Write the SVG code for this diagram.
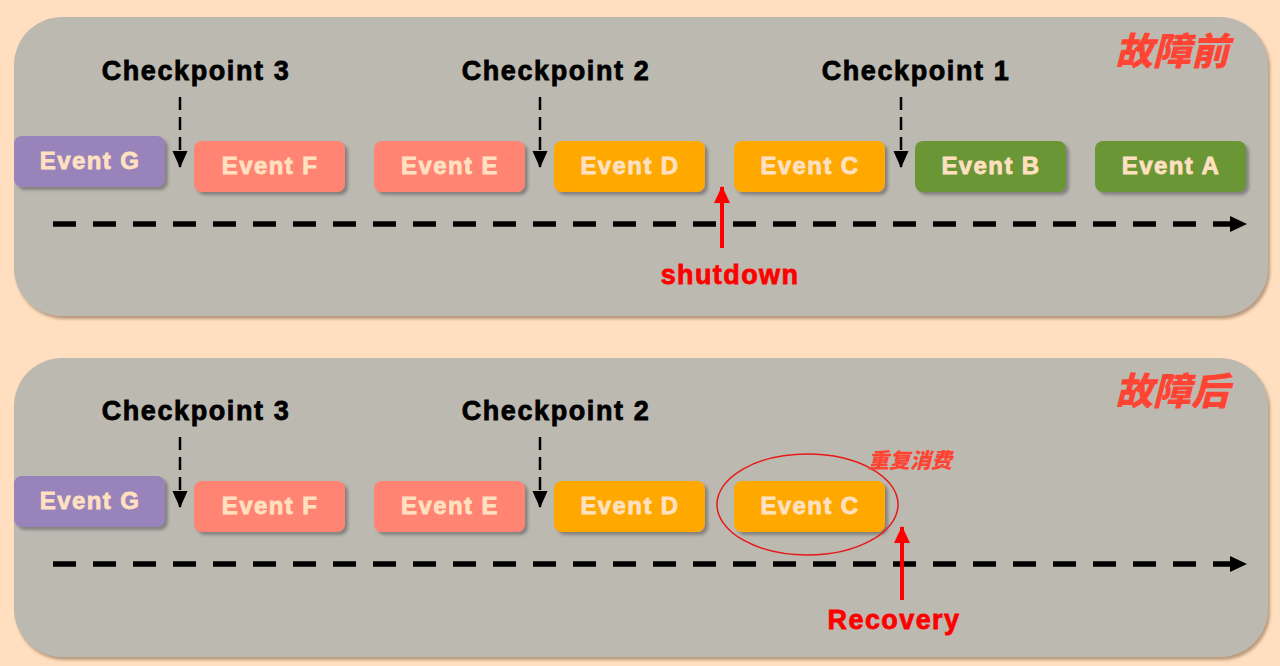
<svg xmlns="http://www.w3.org/2000/svg" width="1280" height="666" viewBox="0 0 1280 666">
<defs>
<filter id="pshadow" x="-5%" y="-5%" width="110%" height="115%">
<feDropShadow dx="2" dy="3" stdDeviation="1.5" flood-color="#8a6a50" flood-opacity="0.6"/>
</filter>
<filter id="bshadow" x="-10%" y="-10%" width="125%" height="135%">
<feDropShadow dx="3" dy="3" stdDeviation="1.5" flood-color="#555" flood-opacity="0.55"/>
</filter>
<marker id="blk" markerWidth="17" markerHeight="16" refX="16" refY="8" orient="auto" markerUnits="userSpaceOnUse">
<path d="M0,0 L17,8 L0,16 Z" fill="#000"/>
</marker>
<marker id="cp" markerWidth="17" markerHeight="16" refX="16" refY="7.5" orient="auto" markerUnits="userSpaceOnUse">
<path d="M0,0 L17,7.5 L0,15 Z" fill="#000"/>
</marker>
<marker id="red" markerWidth="17" markerHeight="16" refX="16" refY="8" orient="auto" markerUnits="userSpaceOnUse">
<path d="M0,0 L17,8 L0,16 Z" fill="#FF0000"/>
</marker>
</defs>
<style>
.panel{fill:#BCB9B1;filter:url(#pshadow)}
.box{filter:url(#bshadow)}
.g{fill:#9883BB}.f{fill:#FF8473}.d{fill:#FFA800}.b{fill:#6A9636}
.et{font-family:"Liberation Sans",Arial,sans-serif;font-weight:bold;font-size:24px;letter-spacing:1.4px;fill:#FFE0C0;stroke:#FFE0C0;stroke-width:0.8px;text-anchor:middle}
.cpt{font-family:"Liberation Sans",Arial,sans-serif;font-weight:bold;font-size:27px;letter-spacing:1.6px;fill:#000;stroke:#000;stroke-width:0.8px;text-anchor:middle}
.rt{font-family:"Liberation Sans",Arial,sans-serif;font-weight:bold;font-size:27px;letter-spacing:1.4px;fill:#FF0000;stroke:#FF0000;stroke-width:0.8px;text-anchor:middle}
.title{font-family:"Noto Sans CJK SC",sans-serif;font-weight:900;font-style:italic;font-size:38px;fill:#FF4433}
.note{font-family:"Noto Sans CJK SC",sans-serif;font-weight:900;font-style:italic;font-size:21px;fill:#FF4433}
.tl{stroke:#000;stroke-width:5.5;stroke-dasharray:23 17;fill:none}
.cpa{stroke:#000;stroke-width:2.5;stroke-dasharray:13 7;fill:none}
.ra{stroke:#FF0000;stroke-width:4;fill:none}
</style>
<rect width="1280" height="666" fill="#FFDFBF"/>
<g id="panel-before">
<rect class="panel" x="14" y="17" width="1254" height="299" rx="48"/>
<text class="title" x="1115" y="65">故障前</text>
</g>
<g id="panel-after">
<rect class="panel" x="14" y="358" width="1254" height="299" rx="48"/>
<text class="title" x="1115" y="405">故障后</text>
</g>
<g id="checkpoints-before">
<text class="cpt" x="196" y="80">Checkpoint 3</text>
<text class="cpt" x="556" y="80">Checkpoint 2</text>
<text class="cpt" x="916" y="80">Checkpoint 1</text>
</g>
<g id="checkpoints-after">
<text class="cpt" x="196" y="420">Checkpoint 3</text>
<text class="cpt" x="556" y="420">Checkpoint 2</text>
</g>
<g id="events-before">
<g id="b-event-g"><rect class="box g" x="14" y="136" width="151" height="51" rx="8"/><text class="et" x="90" y="169">Event G</text></g>
<g id="b-event-f"><rect class="box f" x="194" y="141" width="151" height="51" rx="8"/><text class="et" x="270" y="174">Event F</text></g>
<g id="b-event-e"><rect class="box f" x="374" y="141" width="151" height="51" rx="8"/><text class="et" x="450" y="174">Event E</text></g>
<g id="b-event-d"><rect class="box d" x="554" y="141" width="151" height="51" rx="8"/><text class="et" x="630" y="174">Event D</text></g>
<g id="b-event-c"><rect class="box d" x="734" y="141" width="151" height="51" rx="8"/><text class="et" x="810" y="174">Event C</text></g>
<g id="b-event-b"><rect class="box b" x="915" y="141" width="151" height="51" rx="8"/><text class="et" x="991" y="174">Event B</text></g>
<g id="b-event-a"><rect class="box b" x="1095" y="141" width="151" height="51" rx="8"/><text class="et" x="1171" y="174">Event A</text></g>
</g>
<g id="events-after">
<g id="a-event-g"><rect class="box g" x="14" y="476" width="151" height="51" rx="8"/><text class="et" x="90" y="509">Event G</text></g>
<g id="a-event-f"><rect class="box f" x="194" y="481" width="151" height="51" rx="8"/><text class="et" x="270" y="514">Event F</text></g>
<g id="a-event-e"><rect class="box f" x="374" y="481" width="151" height="51" rx="8"/><text class="et" x="450" y="514">Event E</text></g>
<g id="a-event-d"><rect class="box d" x="554" y="481" width="151" height="51" rx="8"/><text class="et" x="630" y="514">Event D</text></g>
<g id="a-event-c"><rect class="box d" x="734" y="481" width="151" height="51" rx="8"/><text class="et" x="810" y="514">Event C</text></g>
</g>
<g id="connectors">
<line class="tl" x1="53" y1="224" x2="1246" y2="224" marker-end="url(#blk)"/>
<line class="tl" x1="53" y1="564" x2="1246" y2="564" marker-end="url(#blk)"/>
<line class="cpa" x1="180" y1="97" x2="180" y2="167" marker-end="url(#cp)"/>
<line class="cpa" x1="540" y1="97" x2="540" y2="167" marker-end="url(#cp)"/>
<line class="cpa" x1="901" y1="97" x2="901" y2="167" marker-end="url(#cp)"/>
<line class="cpa" x1="180" y1="437" x2="180" y2="507" marker-end="url(#cp)"/>
<line class="cpa" x1="540" y1="437" x2="540" y2="507" marker-end="url(#cp)"/>
<line class="ra" x1="722" y1="248" x2="722" y2="187" marker-end="url(#red)"/>
<line class="ra" x1="902" y1="600" x2="902" y2="527" marker-end="url(#red)"/>
</g>
<g id="shutdown">
<text class="rt" x="730" y="284">shutdown</text>
</g>
<g id="recovery">
<text class="rt" x="894" y="629">Recovery</text>
</g>
<g id="duplicate">
<ellipse cx="807.5" cy="504.5" rx="90.5" ry="50.5" fill="none" stroke="#E81818" stroke-width="1.5"/>
<text class="note" x="868" y="468">重复消费</text>
</g>
</svg>
